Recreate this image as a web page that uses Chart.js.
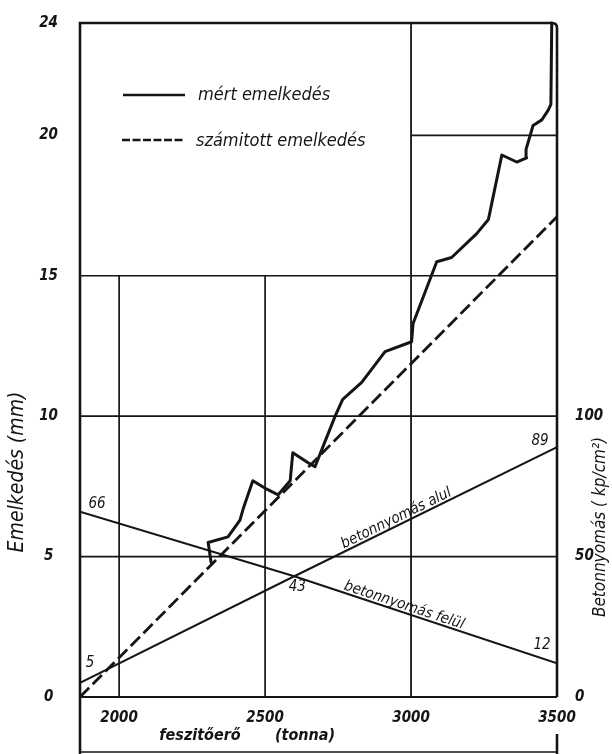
<!DOCTYPE html>
<html>
<head>
<meta charset="utf-8">
<script src="https://cdn.jsdelivr.net/npm/chart.js@4/dist/chart.umd.min.js"></script>
<style>
  html, body { margin: 0; padding: 0; background: #fff; }
  #wrap { width: 612px; height: 754px; }
</style>
</head>
<body>
<div id="wrap"><canvas id="c" width="612" height="754"></canvas></div>
<script>
// Feszítőerő (tonna) – emelkedés (mm) és betonnyomás (kp/cm²)

const forceRange = [1866, 3500];
const forceTicks = [2000, 2500, 3000, 3500];
const riseTicks = [0, 5, 10, 15, 20, 24];
const stressTicks = [0, 50, 100];

// mért emelkedés
const measuredForce = [2315, 2305, 2373, 2414, 2425, 2458, 2506, 2545, 2586, 2595,
                       2654, 2671, 2694, 2740, 2766, 2831, 2911, 3002, 3007, 3088,
                       3139, 3225, 3265, 3311, 3362, 3396, 3394, 3418, 3448, 3470,
                       3479, 3482];
const measuredRise = [4.8, 5.5, 5.7, 6.3, 6.7, 7.7, 7.4, 7.2, 7.7, 8.7,
                      8.3, 8.2, 8.8, 10.0, 10.6, 11.2, 12.3, 12.65, 13.3, 15.5,
                      15.65, 16.5, 17.0, 19.3, 19.05, 19.2, 19.5, 20.35, 20.55, 20.9,
                      21.1, 24];

// számitott emelkedés
const calcForce = [1866, 3500];
const calcRise = [0, 17.1];

// betonnyomás alul / felül
const stressForce = [1866, 2600, 3500];
const stressBottom = [5, 43, 89];
const stressTop = [66, 43, 12];

const ink = '#151515';
const face = '"DejaVu Sans Condensed", "Liberation Sans Narrow", "DejaVu Sans", sans-serif';

const toPoints = (xs, ys) => xs.map((v, i) => ({ x: v, y: ys[i] }));

function fontStr(style, weight, size) {
  return `${style} ${weight} ${size}px ${face}`;
}

// Rules, frame and legend drawn beneath the curves
const paperPlugin = {
  id: 'paper',
  beforeDatasetsDraw(chart) {
    const { ctx, chartArea: a, scales: { x, y } } = chart;
    const px = v => x.getPixelForValue(v);
    const py = v => y.getPixelForValue(v);
    const seg = (x1, y1, x2, y2, w) => {
      ctx.lineWidth = w;
      ctx.beginPath();
      ctx.moveTo(x1, y1);
      ctx.lineTo(x2, y2);
      ctx.stroke();
    };
    ctx.save();
    ctx.strokeStyle = ink;
    ctx.lineCap = 'butt';

    // horizontal rules
    [5, 10, 15].forEach(v => seg(a.left, py(v), a.right, py(v), 1.6));
    seg(px(3000), py(20), a.right, py(20), 1.6);
    seg(a.left, py(0), a.right, py(0), 2.2);

    // vertical rules
    [2000, 2500].forEach(v => seg(px(v), py(0), px(v), py(15), 1.7));
    seg(px(3000), py(0), px(3000), a.top, 1.8);

    // frame
    ctx.lineWidth = 2.6;
    ctx.beginPath();
    ctx.moveTo(a.left, chart.height);
    ctx.lineTo(a.left, a.top);
    ctx.lineTo(a.right - 5, a.top);
    ctx.quadraticCurveTo(a.right, a.top, a.right, a.top + 5);
    ctx.lineTo(a.right, a.bottom);
    ctx.stroke();
    seg(a.right, a.bottom + 37, a.right, chart.height, 2.6);
    seg(a.left, chart.height - 2, a.right, chart.height - 2, 1.3);

    // legend
    ctx.lineWidth = 2.6;
    ctx.beginPath();
    ctx.moveTo(a.left + 43, a.top + 72);
    ctx.lineTo(a.left + 105, a.top + 72);
    ctx.stroke();
    ctx.setLineDash([8, 2.5]);
    ctx.beginPath();
    ctx.moveTo(a.left + 42, a.top + 117);
    ctx.lineTo(a.left + 105, a.top + 117);
    ctx.stroke();
    ctx.setLineDash([]);
    ctx.fillStyle = ink;
    ctx.font = fontStr('italic', 'normal', 18);
    ctx.textAlign = 'left';
    ctx.textBaseline = 'middle';
    ctx.fillText('mért emelkedés', a.left + 118, a.top + 72);
    ctx.fillText('számitott emelkedés', a.left + 116, a.top + 118);
    ctx.restore();
  },

  afterDatasetsDraw(chart) {
    const { ctx, chartArea: a, scales: { x, y2 } } = chart;
    const pt = (f, s) => ({ x: x.getPixelForValue(f), y: y2.getPixelForValue(s) });
    ctx.save();
    ctx.fillStyle = ink;
    ctx.font = fontStr('italic', 'normal', 15);
    ctx.textAlign = 'center';
    ctx.textBaseline = 'middle';

    // values at the ends and at the crossing of the two stress lines
    const s0 = pt(stressForce[0], stressTop[0]);
    ctx.fillText(String(stressTop[0]), s0.x + 17, s0.y - 8);
    const b0 = pt(stressForce[0], stressBottom[0]);
    ctx.fillText(String(stressBottom[0]), b0.x + 10, b0.y - 20);
    const m = pt(stressForce[1], stressBottom[1]);
    ctx.fillText(String(stressBottom[1]), m.x + 3, m.y + 11);
    const b2 = pt(stressForce[2], stressBottom[2]);
    ctx.fillText(String(stressBottom[2]), b2.x - 17, b2.y - 6);
    const s2 = pt(stressForce[2], stressTop[2]);
    ctx.fillText(String(stressTop[2]), s2.x - 15, s2.y - 18);

    // names written along the two lines
    const along = (p1, p2, t, text) => {
      const cx = p1.x + (p2.x - p1.x) * t;
      const cy = p1.y + (p2.y - p1.y) * t;
      const ang = Math.atan2(p2.y - p1.y, p2.x - p1.x);
      ctx.save();
      ctx.translate(cx, cy);
      ctx.rotate(ang);
      ctx.textBaseline = 'alphabetic';
      ctx.fillText(text, 0, -3);
      ctx.restore();
    };
    along(m, b2, 0.4, 'betonnyomás alul');
    along(m, s2, 0.41, 'betonnyomás felül');

    // axis titles
    ctx.font = fontStr('italic', 'normal', 21);
    ctx.save();
    ctx.translate(a.left - 62, a.top + 449);
    ctx.rotate(-Math.PI / 2);
    ctx.fillText('Emelkedés (mm)', 0, 0);
    ctx.restore();

    ctx.font = fontStr('italic', 'normal', 17);
    ctx.save();
    ctx.translate(a.right + 44, a.top + 504);
    ctx.rotate(-Math.PI / 2);
    ctx.fillText('Betonnyomás ( kp/cm²)', 0, 0);
    ctx.restore();

    ctx.font = fontStr('italic', 'bold', 16);
    ctx.fillText('feszitőerő', a.left + 120, a.bottom + 39);
    ctx.fillText('(tonna)', a.left + 225, a.bottom + 39);
    ctx.restore();
  }
};

const tickFont = { family: face, size: 15, weight: 'bold', style: 'italic' };

new Chart(document.getElementById('c'), {
  type: 'scatter',
  data: {
    datasets: [
      {
        label: 'mért emelkedés',
        data: toPoints(measuredForce, measuredRise),
        showLine: true, borderColor: ink, borderWidth: 3, pointRadius: 0,
        borderJoinStyle: 'round', borderCapStyle: 'round',
        yAxisID: 'y', clip: false
      },
      {
        label: 'számitott emelkedés',
        data: toPoints(calcForce, calcRise),
        showLine: true, borderColor: ink, borderWidth: 2.8, borderDash: [13, 5],
        pointRadius: 0, yAxisID: 'y'
      },
      {
        label: 'betonnyomás alul',
        data: toPoints(stressForce, stressBottom),
        showLine: true, borderColor: ink, borderWidth: 2, pointRadius: 0,
        borderJoinStyle: 'round', yAxisID: 'y2'
      },
      {
        label: 'betonnyomás felül',
        data: toPoints(stressForce, stressTop),
        showLine: true, borderColor: ink, borderWidth: 2, pointRadius: 0,
        borderJoinStyle: 'round', yAxisID: 'y2'
      }
    ]
  },
  options: {
    responsive: false,
    animation: false,
    devicePixelRatio: 1,
    layout: { padding: { top: 21, left: 0, right: 0, bottom: 0 } },
    plugins: { legend: { display: false }, tooltip: { enabled: false } },
    scales: {
      x: {
        type: 'linear', position: 'bottom',
        min: forceRange[0], max: forceRange[1],
        afterBuildTicks: s => { s.ticks = forceTicks.map(v => ({ value: v })); },
        afterFit: s => { s.height = 57; },
        grid: { display: false }, border: { display: false },
        ticks: { color: ink, font: tickFont, padding: 4, maxRotation: 0, autoSkip: false,
                 callback: v => String(v) }
      },
      y: {
        type: 'linear', position: 'left', min: 0, max: 24,
        afterBuildTicks: s => { s.ticks = riseTicks.map(v => ({ value: v })); },
        afterFit: s => { s.width = 80; },
        grid: { display: false }, border: { display: false },
        ticks: { color: ink, font: tickFont, crossAlign: 'center', padding: 14, autoSkip: false,
                 callback: v => String(v) }
      },
      y2: {
        type: 'linear', position: 'right', min: 0, max: 240,
        afterBuildTicks: s => { s.ticks = stressTicks.map(v => ({ value: v })); },
        afterFit: s => { s.width = 55; },
        grid: { display: false }, border: { display: false },
        ticks: { color: ink, font: tickFont, padding: 10, autoSkip: false,
                 callback: v => String(v) }
      }
    }
  },
  plugins: [paperPlugin]
});
</script>
</body>
</html>
